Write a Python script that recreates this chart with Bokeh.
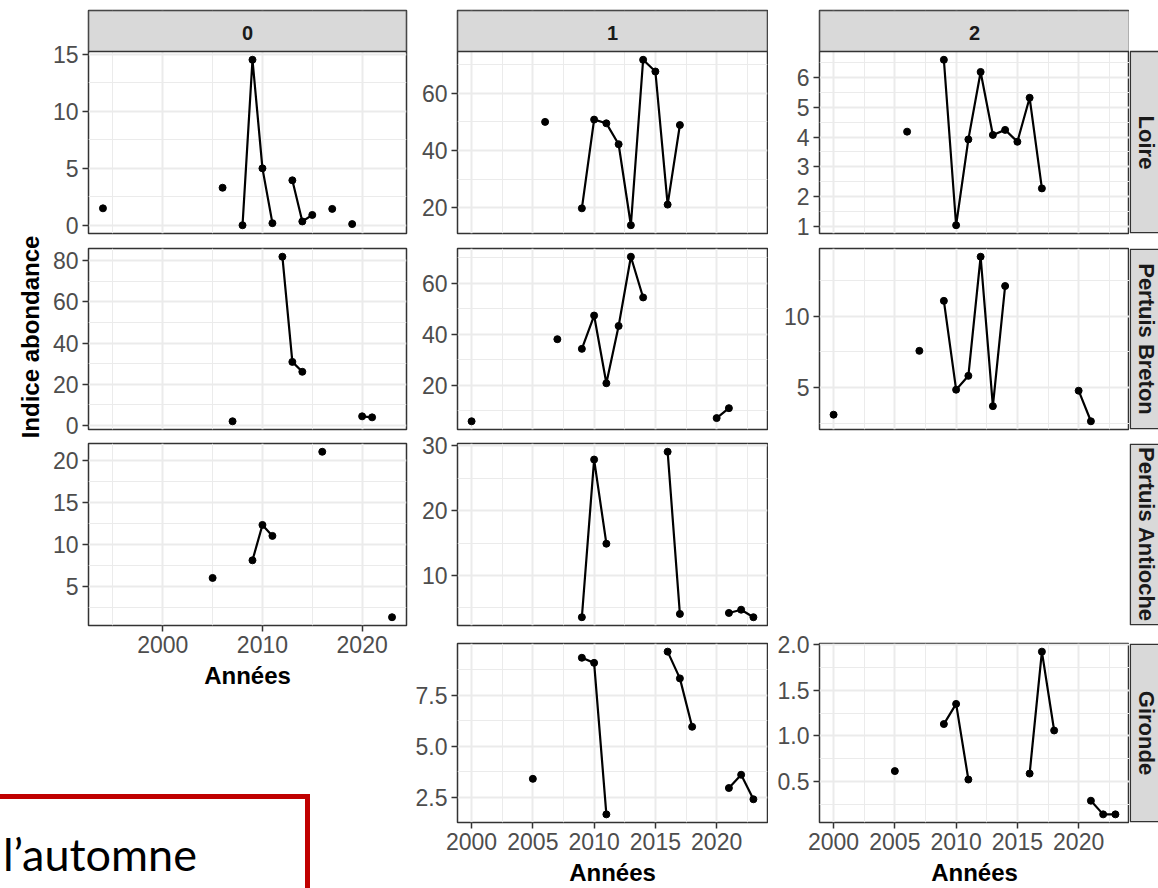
import math
from bokeh.plotting import figure
from bokeh.models import Range1d, FixedTicker, PrintfTickFormatter, Spacer, Div
from bokeh.layouts import row, column
from bokeh.embed import file_html
from bokeh.resources import INLINE
from bokeh.core.properties import value

# ---------------- data ----------------
col_labels = ["0", "1", "2"]
row_labels = ["Loire", "Pertuis Breton", "Pertuis Antioche", "Gironde"]

years_0_loire = [1994, 2006, 2008, 2009, 2010, 2011, 2013, 2014, 2015, 2017, 2019]
vals_0_loire = [1.5, 3.3, 0.02, 14.5, 5.0, 0.2, 3.95, 0.35, 0.92, 1.45, 0.12]
years_0_breton = [2007, 2012, 2013, 2014, 2020, 2021]
vals_0_breton = [2.1, 81.9, 30.9, 26.1, 4.5, 4.0]
years_0_antioche = [2005, 2009, 2010, 2011, 2016, 2023]
vals_0_antioche = [6.0, 8.1, 12.3, 11.0, 21.0, 1.33]

years_1_loire = [2006, 2009, 2010, 2011, 2012, 2013, 2014, 2015, 2016, 2017]
vals_1_loire = [50.0, 19.8, 50.8, 49.5, 42.2, 13.9, 71.7, 67.6, 21.1, 48.9]
years_1_breton = [2000, 2007, 2009, 2010, 2011, 2012, 2013, 2014, 2020, 2021]
vals_1_breton = [5.85, 38.1, 34.3, 47.4, 20.8, 43.3, 70.5, 54.5, 7.1, 11.0]
years_1_antioche = [2009, 2010, 2011, 2016, 2017, 2021, 2022, 2023]
vals_1_antioche = [3.54, 27.9, 14.9, 29.1, 4.05, 4.2, 4.7, 3.54]
years_1_gironde = [2005, 2009, 2010, 2011, 2016, 2017, 2018, 2021, 2022, 2023]
vals_1_gironde = [3.4, 9.33, 9.08, 1.66, 9.63, 8.32, 5.95, 2.95, 3.6, 2.4]

years_2_loire = [2006, 2009, 2010, 2011, 2012, 2013, 2014, 2015, 2016, 2017]
vals_2_loire = [4.18, 6.6, 1.03, 3.92, 6.19, 4.07, 4.24, 3.84, 5.32, 2.27]
years_2_breton = [2000, 2007, 2009, 2010, 2011, 2012, 2013, 2014, 2020, 2021]
vals_2_breton = [3.09, 7.56, 11.06, 4.84, 5.81, 14.15, 3.69, 12.1, 4.77, 2.63]
years_2_gironde = [2005, 2009, 2010, 2011, 2016, 2017, 2018, 2021, 2022, 2023]
vals_2_gironde = [0.617, 1.13, 1.35, 0.525, 0.59, 1.92, 1.06, 0.294, 0.145, 0.145]

# tick labels / breaks
x0_ticks = [2000, 2010, 2020]
x0_minor = [1995, 2005, 2015]
x12_ticks = [2000, 2005, 2010, 2015, 2020]
x12_minor = [2002.5, 2007.5, 2012.5, 2017.5, 2022.5]

yt_0_loire, ym_0_loire = [0, 5, 10, 15], [2.5, 7.5, 12.5]
yt_0_breton, ym_0_breton = [0, 20, 40, 60, 80], [10, 30, 50, 70]
yt_0_antioche, ym_0_antioche = [5, 10, 15, 20], [2.5, 7.5, 12.5, 17.5]
yt_1_loire, ym_1_loire = [20, 40, 60], [30, 50, 70]
yt_1_breton, ym_1_breton = [20, 40, 60], [10, 30, 50, 70]
yt_1_antioche, ym_1_antioche = [10, 20, 30], [5, 15, 25]
yt_1_gironde, ym_1_gironde = [2.5, 5.0, 7.5], [3.75, 6.25, 8.75]
yt_2_loire, ym_2_loire = [1, 2, 3, 4, 5, 6], [1.5, 2.5, 3.5, 4.5, 5.5, 6.5]
yt_2_breton, ym_2_breton = [5, 10], [2.5, 7.5, 12.5]
yt_2_gironde, ym_2_gironde = [0.5, 1.0, 1.5, 2.0], [0.25, 0.75, 1.25, 1.75]

x_title = "Années"
y_title = "Indice abondance"
note_text = "l’automne"

# ---------------- style ----------------
FONT = "Liberation Sans"
TICK_SIZE = "23px"
TITLE_SIZE = "24px"
BORDER = "#333333"
GRID = "#ebebeb"
STRIP_FILL = "#d9d9d9"
STRIP_H = 41          # height of the top strip (px)
PANEL_H = 182         # panel frame height (px)


def expand(vals, frac=0.05):
    lo, hi = min(vals), max(vals)
    pad = (hi - lo) * frac
    return lo - pad, hi + pad


def broken(years, vals):
    xs, ys = [], []
    for i, (yr, v) in enumerate(zip(years, vals)):
        if i > 0 and yr - years[i - 1] > 1:
            xs.append(float("nan"))
            ys.append(float("nan"))
        xs.append(yr)
        ys.append(v)
    return xs, ys


def style_axis(ax):
    ax.axis_line_color = None
    ax.major_tick_line_color = BORDER
    ax.major_tick_line_width = 1.5
    ax.major_tick_out = 6
    ax.major_tick_in = 0
    ax.minor_tick_line_color = None
    ax.major_label_text_font = FONT
    ax.major_label_text_font_size = TICK_SIZE
    ax.major_label_text_color = "#4d4d4d"
    ax.major_label_standoff = 4
    ax.axis_label_text_font = FONT
    ax.axis_label_text_font_size = TITLE_SIZE
    ax.axis_label_text_font_style = "bold"
    ax.axis_label_text_color = "black"


def panel(years, vals, xr, xt, xm, yt, ym, width, mbl, mbr, geom,
          show_x=False, yfmt=None, strip=None):
    mbt, frame_h, mbb = geom
    y0, y1 = expand(vals)
    ytop = y1
    if strip is not None:
        ytop = y1 + (y1 - y0) * STRIP_H / PANEL_H
    p = figure(width=width, height=mbt + frame_h + mbb,
               x_range=Range1d(*xr), y_range=Range1d(y0, ytop),
               output_backend="svg", toolbar_location=None,
               min_border_left=mbl, min_border_right=mbr,
               min_border_top=mbt, min_border_bottom=mbb)
    p.outline_line_color = BORDER
    p.outline_line_width = 1.5
    p.background_fill_color = "white"
    p.border_fill_color = "white"
    xtk = FixedTicker(ticks=xt, minor_ticks=xm)
    ytk = FixedTicker(ticks=yt, minor_ticks=ym)
    p.xaxis.ticker = xtk
    p.yaxis.ticker = ytk
    p.xgrid.ticker = xtk
    p.ygrid.ticker = ytk
    p.xaxis.formatter = PrintfTickFormatter(format="%d")
    if yfmt:
        p.yaxis.formatter = PrintfTickFormatter(format=yfmt)
    for ax in (p.xaxis[0], p.yaxis[0]):
        style_axis(ax)
    p.grid.grid_line_color = GRID
    p.grid.grid_line_width = 2
    p.grid.minor_grid_line_color = GRID
    p.grid.minor_grid_line_width = 1
    if show_x:
        p.xaxis.axis_label = x_title
        p.xaxis.axis_label_standoff = 6
    else:
        p.xaxis.visible = False
    lx, ly = broken(years, vals)
    p.line(lx, ly, line_color="black", line_width=2.2)
    p.scatter(years, vals, size=7, color="black")
    if strip is not None:
        # facet strip drawn in the band above the data range
        p.quad(left=[xr[0]], right=[xr[1]], bottom=[y1], top=[ytop],
               fill_color=STRIP_FILL, line_color=BORDER, line_width=1.5)
        p.text(x=[(xr[0] + xr[1]) / 2], y=[y1 + (ytop - y1) * 0.45], text=[strip],
               text_align="center", text_baseline="middle", text_font=value(FONT),
               text_font_style="bold", text_font_size="20px", text_color="#1a1a1a")
    return p


def right_strip(label, geom, extra=0):
    """Row strip; same frame geometry as its panel, strip occupies the lower
    (frame_h - extra) pixels of the frame."""
    mbt, frame_h, mbb = geom
    band = frame_h - extra
    p = figure(width=29, height=mbt + frame_h + mbb, x_range=Range1d(-0.8, 28.2),
               y_range=Range1d(0, frame_h), x_axis_type=None, y_axis_type=None,
               output_backend="svg", toolbar_location=None, min_border_left=0,
               min_border_right=0, min_border_top=mbt, min_border_bottom=mbb)
    p.outline_line_color = None
    p.background_fill_color = "white"
    p.border_fill_color = "white"
    top = band if extra else band - 0.7
    p.quad(left=[0], right=[60], bottom=[0.7], top=[top], fill_color=STRIP_FILL,
           line_color=BORDER, line_width=1.5)
    p.text(x=[16.5], y=[band / 2], text=[label], angle=-math.pi / 2, text_align="center",
           text_baseline="middle", text_font=value(FONT), text_font_style="bold",
           text_font_size="22px", text_color="#1a1a1a")
    return p


def y_title_fig(width, height, cx, cy):
    p = figure(width=width, height=height, x_range=Range1d(0, width),
               y_range=Range1d(height, 0), x_axis_type=None, y_axis_type=None,
               output_backend="svg", toolbar_location=None, min_border=0)
    p.outline_line_color = None
    p.border_fill_color = "white"
    p.background_fill_color = "white"
    p.text(x=[cx], y=[cy], text=[y_title], angle=math.pi / 2, text_align="center",
           text_baseline="middle", text_font=value(FONT), text_font_style="bold",
           text_font_size=TITLE_SIZE, text_color="black")
    return p


# shared x ranges per column
xr0 = expand(years_0_loire + years_0_breton + years_0_antioche)
xr1 = expand(years_1_loire + years_1_breton + years_1_antioche + years_1_gironde)
xr2 = expand(years_2_loire + years_2_breton + years_2_gironde)

# ---------------- column 0 ----------------
WA, LA, RA = 364, 42, 4
gA1 = (10, STRIP_H + PANEL_H, 10)
gA2 = (5, 181, 10)
gA3 = (4, PANEL_H, 75)
panelsA = column(
    panel(years_0_loire, vals_0_loire, xr0, x0_ticks, x0_minor, yt_0_loire, ym_0_loire,
          WA, LA, RA, gA1, strip=col_labels[0]),
    panel(years_0_breton, vals_0_breton, xr0, x0_ticks, x0_minor, yt_0_breton, ym_0_breton,
          WA, LA, RA, gA2),
    panel(years_0_antioche, vals_0_antioche, xr0, x0_ticks, x0_minor, yt_0_antioche,
          ym_0_antioche, WA, LA, RA, gA3, show_x=True),
)
topA_h = sum(gA1) + sum(gA2) + sum(gA3)
colA = column(
    row(y_title_fig(46, topA_h, 30, 336.5), panelsA),
    Spacer(width=410, height=888 - topA_h - 94),
    Div(text=note_text, width=310, height=94, margin=0,
        styles={"border-top": "5px solid #C00000", "border-right": "5px solid #C00000",
                "font-family": "Lato", "font-size": "45px", "color": "black",
                "padding-top": "33px", "padding-left": "3px", "line-height": "1",
                "box-sizing": "border-box", "overflow": "hidden", "white-space": "nowrap"}),
)

# ---------------- column 1 ----------------
WB, LB, RB = 358, 47, 1
gB1 = (10, STRIP_H + PANEL_H, 10)
gB2 = (5, 181, 3)
gB3 = (11, PANEL_H, 6)
gB4 = (12, PANEL_H, 63)
colB = column(
    panel(years_1_loire, vals_1_loire, xr1, x12_ticks, x12_minor, yt_1_loire, ym_1_loire,
          WB, LB, RB, gB1, strip=col_labels[1]),
    panel(years_1_breton, vals_1_breton, xr1, x12_ticks, x12_minor, yt_1_breton,
          ym_1_breton, WB, LB, RB, gB2),
    panel(years_1_antioche, vals_1_antioche, xr1, x12_ticks, x12_minor, yt_1_antioche,
          ym_1_antioche, WB, LB, RB, gB3),
    panel(years_1_gironde, vals_1_gironde, xr1, x12_ticks, x12_minor, yt_1_gironde,
          ym_1_gironde, WB, LB, RB, gB4, show_x=True, yfmt="%.1f"),
)

# ---------------- column 2 + row strips ----------------
WC, LC, RC = 361, 51, 0
colC = column(
    row(panel(years_2_loire, vals_2_loire, xr2, x12_ticks, x12_minor, yt_2_loire,
              ym_2_loire, WC, LC, RC, gB1, strip=col_labels[2]),
        right_strip(row_labels[0], gB1, extra=STRIP_H)),
    row(panel(years_2_breton, vals_2_breton, xr2, x12_ticks, x12_minor, yt_2_breton,
              ym_2_breton, WC, LC, RC, gB2),
        right_strip(row_labels[1], gB2)),
    row(Spacer(width=WC, height=sum(gB3)), right_strip(row_labels[2], gB3)),
    row(panel(years_2_gironde, vals_2_gironde, xr2, x12_ticks, x12_minor, yt_2_gironde,
              ym_2_gironde, WC, LC, RC, gB4, show_x=True, yfmt="%.1f"),
        right_strip(row_labels[3], gB4)),
)

layout = row(colA, colB, colC)
open("out.html", "w").write(file_html(layout, INLINE))
